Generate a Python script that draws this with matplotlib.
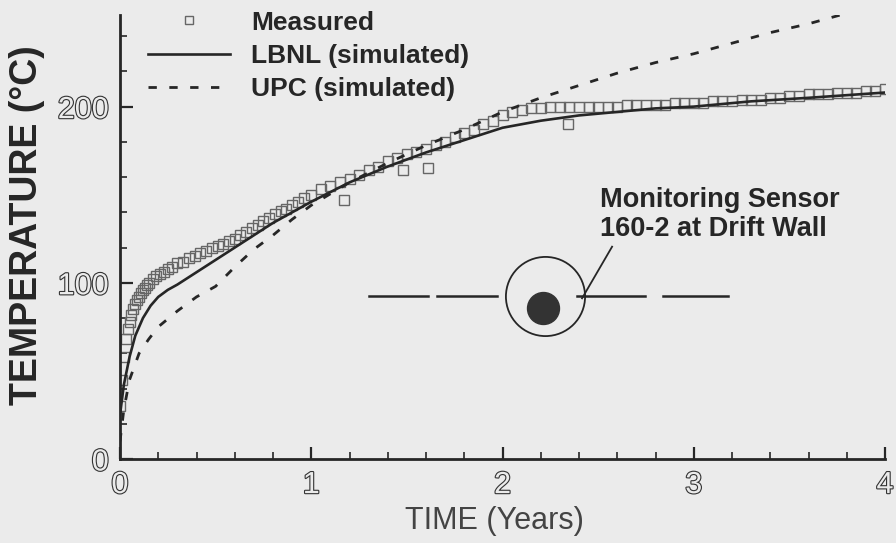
import matplotlib
matplotlib.use("Agg")
import matplotlib.pyplot as plt
import matplotlib.patheffects as pe
import numpy as np

plt.rcParams['font.family'] = ['Liberation Sans', 'DejaVu Sans']

# measured temperature (squares)
meas_t = [0.0, 0.01, 0.02, 0.03, 0.04, 0.05, 0.06, 0.07, 0.08, 0.09, 0.10, 0.11,
          0.12, 0.13, 0.14, 0.15, 0.17, 0.19, 0.21, 0.23, 0.25, 0.27, 0.30, 0.33,
          0.36, 0.39, 0.42, 0.45, 0.48, 0.51, 0.54, 0.57, 0.60, 0.63, 0.66, 0.69,
          0.72, 0.75, 0.78, 0.81, 0.84, 0.87, 0.90, 0.93, 0.96, 1.00,
          1.05, 1.10, 1.15, 1.20, 1.25, 1.30, 1.35, 1.40, 1.45, 1.50, 1.55, 1.60,
          1.65, 1.70, 1.75, 1.80, 1.85, 1.90, 1.95, 2.00, 2.05, 2.10, 2.15, 2.20,
          2.25, 2.30, 2.35, 2.40, 2.45, 2.50, 2.55, 2.60, 2.65, 2.70, 2.75, 2.80,
          2.85, 2.90, 2.95, 3.00, 3.05, 3.10, 3.15, 3.20, 3.25, 3.30, 3.35, 3.40,
          3.45, 3.50, 3.55, 3.60, 3.65, 3.70, 3.75, 3.80, 3.85, 3.90, 3.95, 4.00,
          1.17, 1.48, 1.61, 2.34]
meas_T = [30, 45, 58, 68, 74, 78, 82, 85, 88, 90, 92, 94,
          96, 97, 99, 100, 102, 104, 105, 106, 108, 109, 111, 112,
          114, 115, 117, 118, 120, 121, 122, 124, 125, 127, 129, 131,
          133, 135, 137, 139, 141, 142, 144, 146, 148, 150,
          153, 155, 157, 159, 161, 164, 166, 169, 171, 173, 174, 176,
          178, 180, 183, 185, 187, 190, 192, 195, 197, 198, 199, 199,
          200, 200, 200, 200, 200, 200, 200, 200, 201, 201, 201, 201,
          201, 202, 202, 202, 202, 203, 203, 203, 204, 204, 204, 205,
          205, 206, 206, 207, 207, 207, 208, 208, 208, 209, 209, 210,
          147, 164, 165, 190]

# LBNL simulation
lbnl_t = [0, 0.02, 0.05, 0.08, 0.12, 0.16, 0.2, 0.25, 0.3, 0.4, 0.5, 0.6, 0.7, 0.8,
          0.9, 1.0, 1.2, 1.4, 1.6, 1.8, 2.0, 2.2, 2.4, 2.6, 2.8, 3.0, 3.3, 3.6, 4.0]
lbnl_T = [25, 42, 58, 70, 80, 87, 92, 96, 99, 106, 113, 120, 127, 134,
          140, 146, 157, 166, 174, 181, 188, 192, 195, 197, 199, 200, 203, 205, 208]

# UPC simulation
upc_t = [0, 0.02, 0.05, 0.1, 0.15, 0.2, 0.3, 0.4, 0.5, 0.6, 0.7, 0.8, 0.9, 1.0,
         1.2, 1.4, 1.6, 1.8, 2.0, 2.2, 2.4, 2.6, 2.8, 3.0, 3.2, 3.4, 3.6, 3.8, 4.0]
upc_T = [10, 28, 45, 60, 68, 75, 84, 92, 98, 109, 119, 127, 136, 144,
         157, 168, 178, 187, 197, 205, 212, 219, 225, 230, 236, 242, 247, 253, 259]

labels = ["Measured", "LBNL (simulated)", "UPC (simulated)"]
sensor_text = "Monitoring Sensor\n160-2 at Drift Wall"

ink = '#262626'
bg = '#ebebeb'

fig = plt.figure(figsize=(8.96, 5.43), dpi=100, facecolor=bg)
ax = fig.add_axes([120 / 896, 84 / 543, 765 / 896, 444 / 543], facecolor=bg)

ax.plot(meas_t, meas_T, ls='none', marker='s', ms=7, mfc='none', mec='#666666',
        mew=1.0, label=labels[0], zorder=2)
ax.plot(lbnl_t, lbnl_T, color=ink, lw=1.9, label=labels[1], zorder=3)
ax.plot(upc_t, upc_T, color=ink, lw=2.0, ls=(0, (3, 4.5)), label=labels[2], zorder=3)

# drift schematic with sensor
wall_y = 92.3
for x0, x1 in [(1.30, 1.61), (1.66, 1.97), (2.39, 2.745), (2.84, 3.18)]:
    ax.plot([x0, x1], [wall_y, wall_y], color=ink, lw=1.8)
ax.plot([2.222], [wall_y], marker='o', ms=57, mfc='none', mec=ink, mew=1.3)
ax.plot([2.212], [85.6], marker='o', ms=23, mfc='#333333', mec='#333333')
ax.plot([2.416, 2.573], [91.2, 120.5], color=ink, lw=1.3)
ax.text(2.51, 139, sensor_text, fontsize=19.5, fontweight='bold', color=ink,
        ha='left', va='center', linespacing=1.15)

ax.set_xlim(0, 4)
ax.set_ylim(0, 252)
ax.set_xticks([0, 1, 2, 3, 4])
ax.set_yticks([0, 100, 200])
ax.set_xticks(np.arange(0, 4.01, 0.2), minor=True)
ax.set_yticks(np.arange(0, 251, 20), minor=True)
ax.tick_params(which='major', direction='in', length=9, width=1.6, color=ink,
               labelsize=22, pad=8)
ax.tick_params(which='minor', direction='in', length=5, width=1.2, color=ink)

outline = [pe.withStroke(linewidth=1.6, foreground='#333333')]
for lab in ax.get_xticklabels() + ax.get_yticklabels():
    lab.set_color(bg)
    lab.set_path_effects(outline)

for side in ['top', 'right']:
    ax.spines[side].set_visible(False)
for side in ['left', 'bottom']:
    ax.spines[side].set_linewidth(2.0)
    ax.spines[side].set_color(ink)

ax.set_ylabel("TEMPERATURE (°C)", fontsize=27, fontweight='bold', color=ink)
ax.yaxis.set_label_coords(-0.098, 0.527)
ax.set_xlabel("TIME (Years)", fontsize=22, color='#444444')
ax.xaxis.set_label_coords(0.49, -0.105)

leg = ax.legend(loc='upper left', bbox_to_anchor=(0.037, 1.01), frameon=False,
                prop={'weight': 'bold', 'size': 19}, handlelength=3.1,
                handletextpad=0.8, labelspacing=0.35, borderpad=0, borderaxespad=0,
                markerscale=0.75)
for t in leg.get_texts():
    t.set_color(ink)

fig.savefig("out.png", dpi=100, facecolor=bg)
